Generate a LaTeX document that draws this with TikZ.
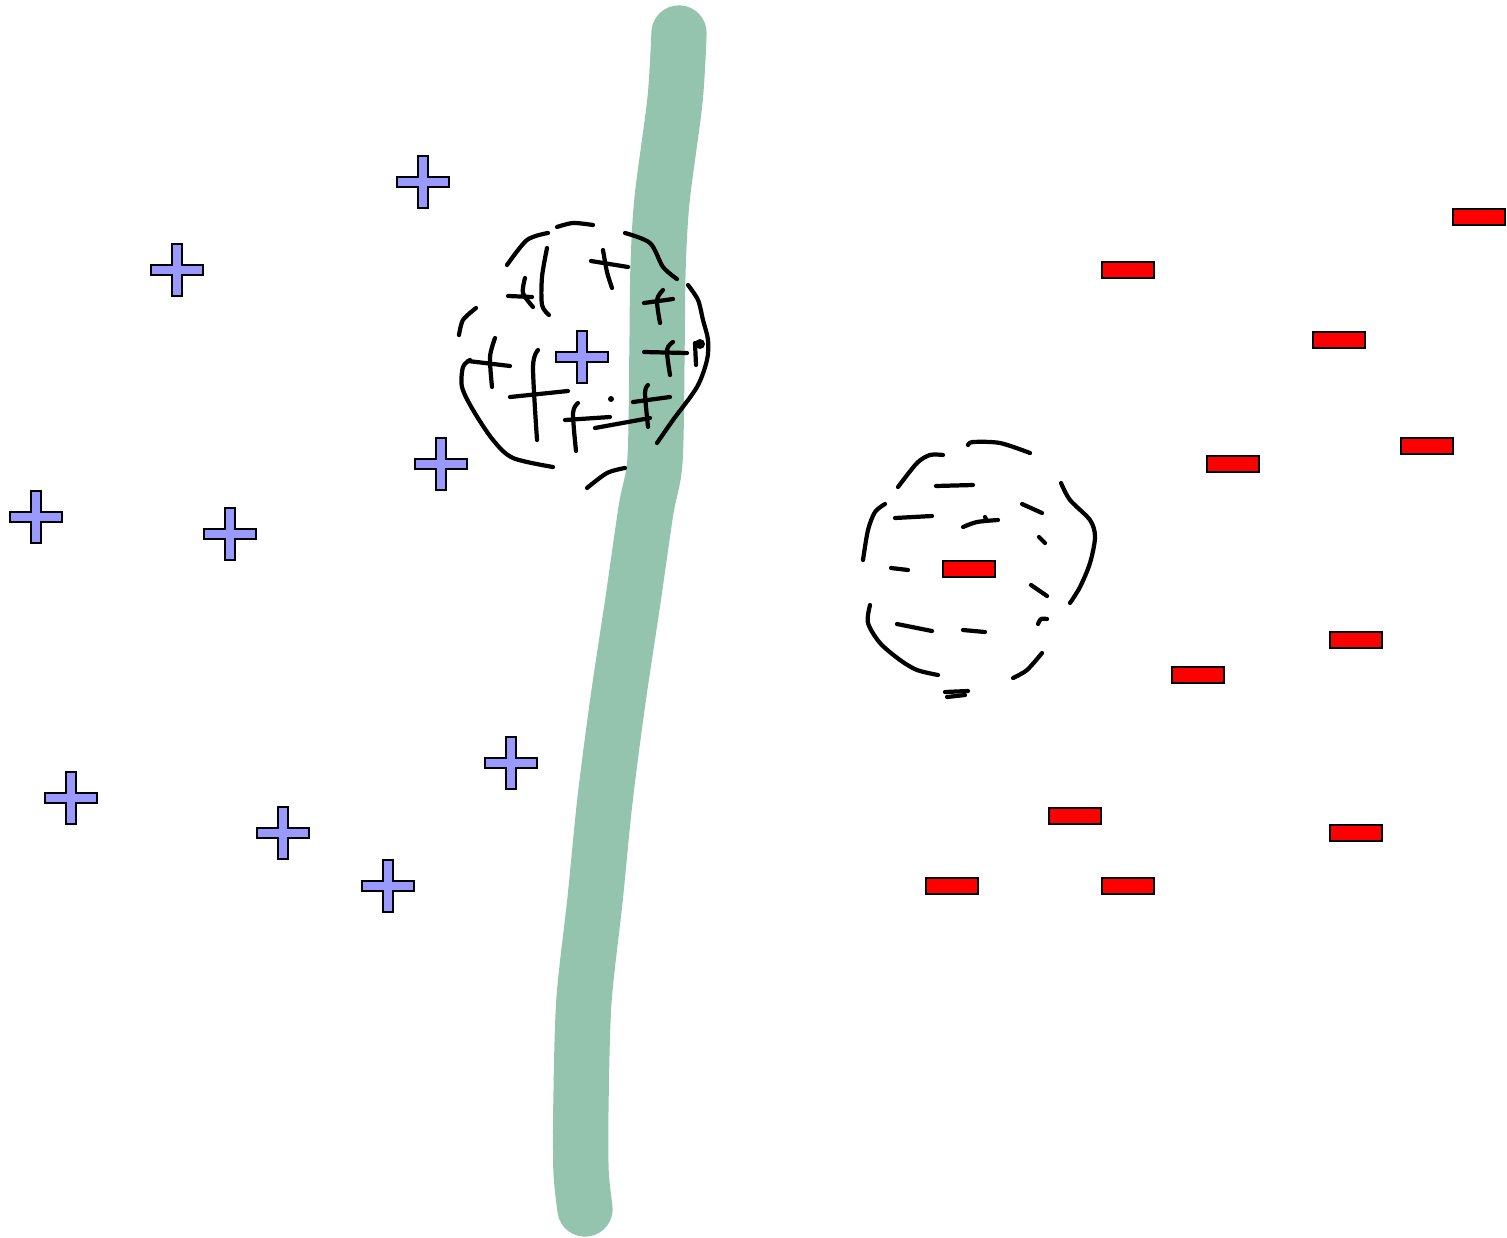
\documentclass[tikz,border=0pt]{standalone}
\usepackage{xcolor}
\usetikzlibrary{positioning}
\definecolor{bandgreen}{RGB}{148,196,173}
\definecolor{plusblue}{RGB}{153,153,255}
\definecolor{minusred}{RGB}{255,0,0}
\tikzset{
  sketch/.style={line width=2.4pt,line cap=round,line join=round},
  plussign/.pic={\draw[line width=1.1pt,fill=plusblue] (-5,-26)--(5,-26)--(5,-5)--(26,-5)--(26,5)--(5,5)--(5,26)--(-5,26)--(-5,5)--(-26,5)--(-26,-5)--(-5,-5)--cycle;},
  minussign/.pic={\draw[line width=1.1pt,fill=minusred] (-26,-8) rectangle (26,8);}
}

\begin{document}
\begin{tikzpicture}[x=0.02cm,y=-0.02cm]
\useasboundingbox (0,0) rectangle (1507,1237);
% the wall
\draw[bandgreen,line width=31.5pt,line cap=round,line join=round] plot[smooth,tension=0.5] coordinates {(679,33) (675,100) (662,200) (658,270) (657,350) (655,460) (646,510) (633,600) (618,700) (605,800) (595,900) (584,1000) (581,1100) (581,1170) (585,1209)};
% positive charges on the left
\foreach \p in {(423,182),(177,270),(582,357),(441,464),(36,517),(230,534),(511,763),(71,798),(283,833),(388,886)}
  \pic at \p {plussign};
% negative charges on the right
\foreach \p in {(1479,217),(1128,270),(1339,340),(1233,464),(1427,446),(969,569),(1356,640),(1198,675),(1075,816),(1356,833),(952,886),(1128,886)}
  \pic at \p {minussign};
% cloud round the left charge
\draw[sketch] plot[smooth] coordinates {(557,227) (573,223) (593,225)};
\draw[sketch] plot[smooth] coordinates {(507,265) (527,240) (548,233)};
\draw[sketch] plot[smooth] coordinates {(625,233) (650,243) (663,267) (677,279)};
\draw[sketch] plot[smooth] coordinates {(547,248) (542,277) (542,305) (549,315)};
\draw[sketch] plot[smooth] coordinates {(525,278) (523,293) (533,307)};
\draw[sketch] (508,296) -- (532,297);
\draw[sketch] plot[smooth] coordinates {(476,308) (463,320) (459,335)};
\draw[sketch] (591,261) -- (628,267);
\draw[sketch] plot[smooth] coordinates {(603,250) (607,272) (612,288)};
\draw[sketch] (644,303) -- (673,299);
\draw[sketch] plot[smooth] coordinates {(663,290) (657,300) (660,323)};
\draw[sketch] plot[smooth] coordinates {(688,285) (698,300) (703,320) (708,340) (707,360) (697,387) (673,420) (657,443)};
\fill (700,344) circle (5);
\draw[sketch] (695,343) -- (696,365);
\draw[sketch] (644,352) -- (687,353);
\draw[sketch] plot[smooth] coordinates {(673,342) (667,350) (670,375)};
\draw[sketch] (468,361) -- (510,366);
\draw[sketch] plot[smooth] coordinates {(495,338) (490,357) (492,387)};
\draw[sketch] plot[smooth] coordinates {(470,360) (463,367) (462,387) (473,410) (493,440) (513,458) (553,467)};
\draw[sketch] plot[smooth] coordinates {(538,350) (533,367) (537,440)};
\draw[sketch] (510,397) -- (568,391);
\draw[sketch] plot[smooth] coordinates {(578,403) (573,413) (576,451)};
\draw[sketch] (565,420) -- (610,417);
\fill (611,399) circle (3);
\draw[sketch] (595,428) -- (650,418);
\draw[sketch] plot[smooth] coordinates {(648,385) (645,393) (648,427)};
\draw[sketch] (633,402) -- (670,397);
\draw[sketch] plot[smooth] coordinates {(587,488) (607,473) (625,468)};
% cloud round the right charge
\draw[sketch] plot[smooth] coordinates {(968,445) (973,442) (1000,443) (1030,453)};
\draw[sketch] plot[smooth] coordinates {(898,487) (917,463) (930,455) (943,455)};
\draw[sketch] (936,486) -- (973,485);
\draw[sketch] plot[smooth] coordinates {(1061,483) (1070,500) (1090,520) (1095,537) (1090,563) (1080,587) (1070,603)};
\draw[sketch] plot[smooth] coordinates {(885,504) (875,512) (868,530) (863,560)};
\draw[sketch] (895,518) -- (932,516);
\draw[sketch] plot[smooth] coordinates {(963,527) (977,522) (998,520)};
\draw[sketch] (985,517) -- (987,521);
\draw[sketch] (1022,504) -- (1042,513);
\draw[sketch] (1039,537) -- (1045,543);
\draw[sketch] (891,568) -- (908,570);
\draw[sketch] (1031,585) -- (1047,596);
\draw[sketch] plot[smooth] coordinates {(870,605) (868,623) (880,643) (900,660) (917,670) (938,675)};
\draw[sketch] (897,624) -- (932,631);
\draw[sketch] (963,630) -- (985,632);
\draw[sketch] plot[smooth] coordinates {(1038,624) (1041,619) (1047,619)};
\draw[sketch] plot[smooth] coordinates {(1042,653) (1027,670) (1013,678)};
\draw[sketch] (945,692) -- (968,691);
\draw[sketch] (947,697) -- (965,695);
\end{tikzpicture}
\end{document}
